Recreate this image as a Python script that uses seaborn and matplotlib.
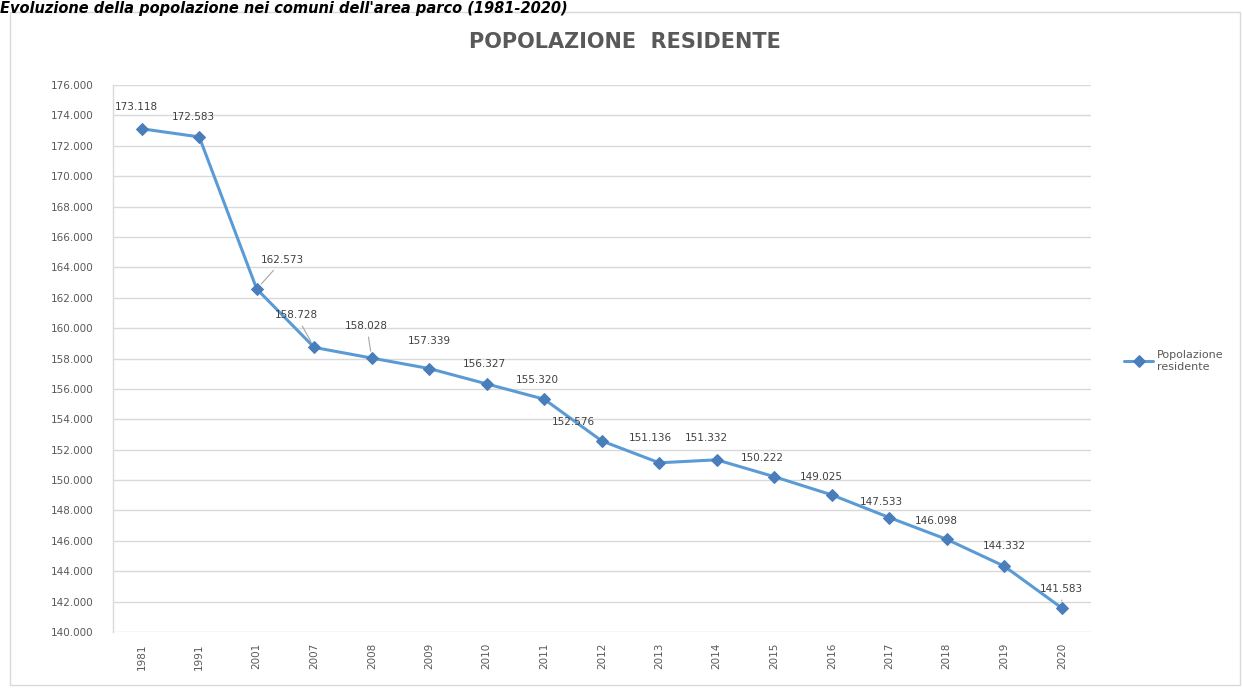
import numpy as np
import pandas as pd
import matplotlib
matplotlib.use("Agg")
import matplotlib.pyplot as plt
from matplotlib.ticker import FuncFormatter, MultipleLocator
from matplotlib.patches import Rectangle
import seaborn as sns

# Residents in the park-area municipalities
anni = ["1981", "1991", "2001", "2007", "2008", "2009", "2010", "2011", "2012",
        "2013", "2014", "2015", "2016", "2017", "2018", "2019", "2020"]
popolazione = [173118, 172583, 162573, 158728, 158028, 157339, 156327, 155320,
               152576, 151136, 151332, 150222, 149025, 147533, 146098, 144332,
               141583]

# label offsets (pixels) relative to each point, and whether a leader line is drawn
label_dx = [-5, -6, 26, -18, -5, 0, -2, -7, -28, -9, -10, -12, -10, -8, -10, 0, 0]
label_dy = [22, 20, 29, 32, 32, 28, 20, 19, 19, 25, 22, 19, 18, 16, 18, 20, 19]
leader = [False, False, True, True, True, False, False, False, False, False,
          False, False, False, False, False, False, True]

sns.set_theme(style="white")
plt.rcParams["font.family"] = ["DejaVu Sans"]

W, H = 1243, 689
fig = plt.figure(figsize=(W / 100, H / 100), dpi=100)
fig.patch.set_facecolor("white")

# chart frame
fig.patches.append(Rectangle((10 / W, 1 - 685 / H), 1230 / W, 673 / H,
                             transform=fig.transFigure, fill=False,
                             edgecolor="#D9D9D9", linewidth=1.0))

ax = fig.add_axes([113 / W, 1 - 632 / H, (1090.5 - 113) / W, (632 - 85) / H])

df = pd.DataFrame({"x": np.arange(len(anni)), "y": popolazione})
sns.lineplot(data=df, x="x", y="y", ax=ax, color="#5B9BD5", linewidth=2.2,
             marker="D", markersize=6.5, markerfacecolor="#4A7EBB",
             markeredgecolor="#4A7EBB", label="Popolazione\nresidente")

fmt = lambda v: f"{v:,.0f}".replace(",", ".")

ax.set_xlim(-0.5, len(anni) - 0.5)
ax.set_ylim(140000, 176000)
ax.yaxis.set_major_locator(MultipleLocator(2000))
ax.yaxis.set_major_formatter(FuncFormatter(lambda v, p: fmt(v)))
ax.set_xticks(np.arange(len(anni)))
ax.set_xticklabels(anni, rotation=90)
ax.tick_params(axis="both", length=0, labelsize=7.5, labelcolor="#595959")
ax.tick_params(axis="y", pad=14)
ax.tick_params(axis="x", pad=8)
ax.set_xlabel("")
ax.set_ylabel("")
ax.grid(axis="y", color="#D9D9D9", linewidth=1.0)
ax.grid(axis="x", visible=False)
ax.set_axisbelow(True)
for side in ["top", "right", "bottom"]:
    ax.spines[side].set_visible(False)
ax.spines["left"].set_color("#D9D9D9")
ax.spines["left"].set_linewidth(1.0)

# value labels
for i, v in enumerate(popolazione):
    kw = {}
    if leader[i]:
        kw["arrowprops"] = dict(arrowstyle="-", color="#A6A6A6", lw=0.8,
                                shrinkA=2, shrinkB=5)
    ax.annotate(fmt(v), xy=(i, v), xytext=(label_dx[i], label_dy[i]),
                textcoords="offset pixels", ha="center", va="center",
                fontsize=7.5, color="#404040", **kw)

# legend on the right
leg = ax.legend(loc="center left", bbox_to_anchor=(1120 / W, 1 - 361 / H),
                bbox_transform=fig.transFigure, frameon=False, fontsize=8,
                handlelength=2.6, handletextpad=0.3, borderaxespad=0)
for t in leg.get_texts():
    t.set_color("#595959")

# chart title
fig.text(625 / W, 1 - 42 / H, "POPOLAZIONE  RESIDENTE", ha="center", va="center",
         fontsize=15, fontweight="bold", color="#595959")

# caption above the chart
fig.text(0.0, 1 - 1 / H, "Evoluzione della popolazione nei comuni dell'area parco (1981-2020)",
         ha="left", va="top", fontsize=10.5, fontweight="bold",
         fontstyle="italic", color="black")

fig.savefig("out.png", dpi=100, facecolor="white")
